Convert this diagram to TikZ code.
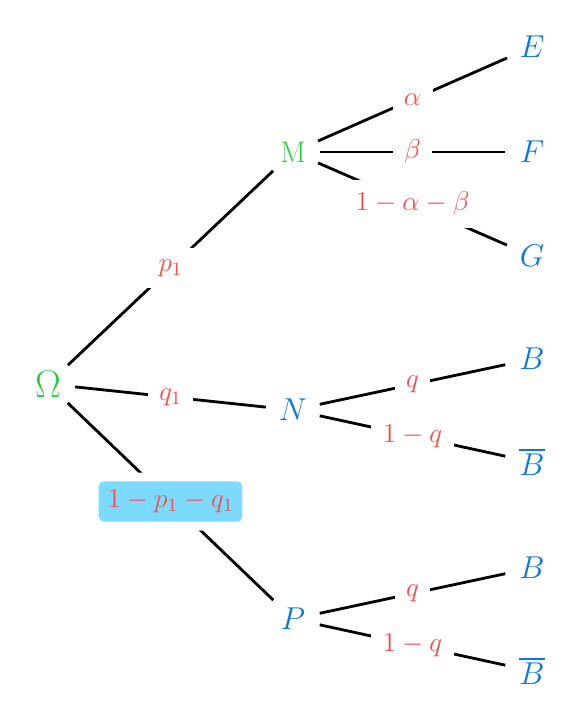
\RequirePackage{fix-cm}
\documentclass[tikz,border=0pt]{standalone}
\usepackage{amsmath,amssymb}
\usepackage{tikz}
\usepackage{xcolor}
\definecolor{rootcolor}{RGB}{46, 204, 64}
\definecolor{eventcolor}{RGB}{10, 120, 220}
\definecolor{probcolor}{RGB}{245, 75, 75}
\definecolor{boxcolor}{RGB}{125, 218, 255}

\begin{document}
\begin{tikzpicture}[
    event/.style={circle, minimum size=1.08cm, inner sep=0pt, text=eventcolor, font=\fontsize{18}{21}\selectfont},
    root/.style={event, text=rootcolor},
    prob/.style={fill=white, inner sep=6.5pt, text=probcolor, font=\fontsize{15.5}{18}\selectfont},
    probbox/.style={prob, inner sep=5pt, fill=boxcolor, rounded corners=3pt, preaction={draw=white, line width=10pt}},
    branch/.style={line width=1.6pt},
]
    \useasboundingbox (0,0) rectangle (11.62,-14.36);

    % Root and first level
    \node[root, font=\fontsize{22}{26}\selectfont] (omega) at (0.96, -7.68) {$\Omega$};
    \node[root, font=\fontsize{17}{20}\selectfont] (M) at (5.86, -3.04) {$\mathrm{M}$};
    \node[event] (N) at (5.86, -8.2) {$N$};
    \node[event] (P) at (5.86, -12.38) {$P$};

    % Leaves
    \node[event] (E) at (10.64, -0.94) {$E$};
    \node[event] (F) at (10.64, -3.04) {$F$};
    \node[event] (G) at (10.64, -5.12) {$G$};
    \node[event] (NB) at (10.64, -7.18) {$B$};
    \node[event] (NBbar) at (10.64, -9.24) {$\overline{B}$};
    \node[event] (PB) at (10.64, -11.36) {$B$};
    \node[event] (PBbar) at (10.64, -13.42) {$\overline{B}$};

    % Branches
    \draw[branch] (omega) -- node[prob] {$p_1$} (M);
    \draw[branch] (omega) -- node[prob] {$q_1$} (N);
    \draw[branch] (omega) -- node[probbox] {$1-p_1-q_1$} (P);

    \draw[branch] (M) -- node[prob] {$\alpha$} (E);
    \draw[branch] (M) -- node[prob] {$\beta$} (F);
    \draw[branch] (M) -- node[prob] {$1-\alpha-\beta$} (G);

    \draw[branch] (N) -- node[prob] {$q$} (NB);
    \draw[branch] (N) -- node[prob] {$1-q$} (NBbar);
    \draw[branch] (P) -- node[prob] {$q$} (PB);
    \draw[branch] (P) -- node[prob] {$1-q$} (PBbar);
\end{tikzpicture}
\end{document}
